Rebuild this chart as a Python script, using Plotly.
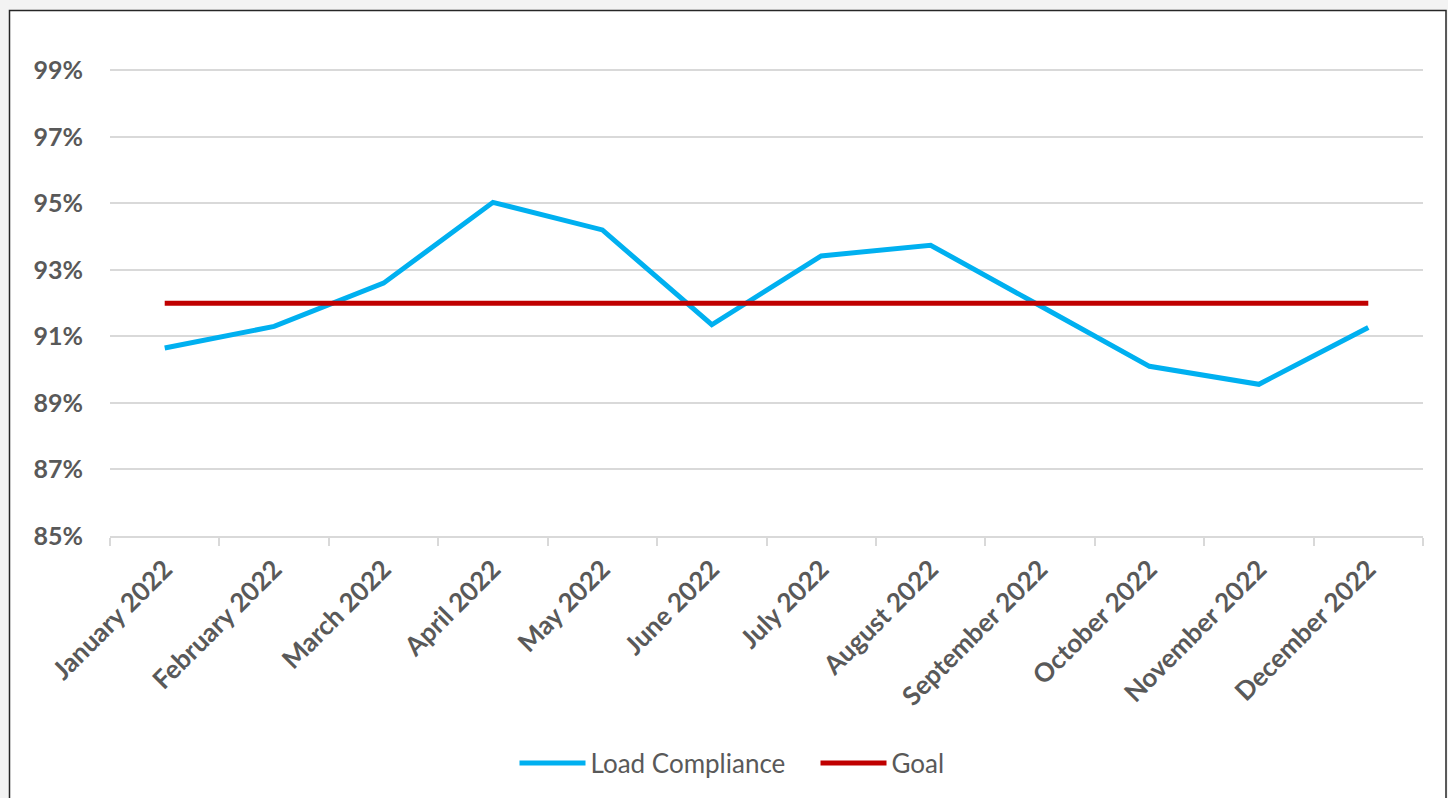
import plotly.graph_objects as go

months = ["January 2022", "February 2022", "March 2022", "April 2022", "May 2022", "June 2022",
          "July 2022", "August 2022", "September 2022", "October 2022", "November 2022", "December 2022"]
load_compliance = [90.65, 91.3, 92.6, 95.03, 94.2, 91.35, 93.42, 93.74, 91.92, 90.1, 89.56, 91.27]
goal = [92, 92, 92, 92, 92, 92, 92, 92, 92, 92, 92, 92]

fig = go.Figure()
fig.add_trace(go.Scatter(x=months, y=load_compliance, mode="lines", name="Load Compliance",
                         line=dict(color="#00B0F0", width=5)))
fig.add_trace(go.Scatter(x=months, y=goal, mode="lines", name="Goal",
                         line=dict(color="#C00000", width=5)))

W, H = 1448, 798
ml, mr, mt, mb = 110, 25, 37, 262
pw, ph = W - ml - mr, H - mt - mb

fig.add_shape(type="rect", xref="paper", yref="paper", layer="below",
              x0=(9.5 - ml) / pw, x1=(1446 - ml) / pw,
              y0=-0.7, y1=(H - mb - 10.5) / ph,
              line=dict(color="#262626", width=1.5), fillcolor="white")

FONT = "Lato"
fig.update_layout(
    width=W, height=H,
    margin=dict(l=ml, r=mr, t=mt, b=mb),
    paper_bgcolor="#f3f3f3",
    plot_bgcolor="white",
    font=dict(family=FONT, color="#595959"),
    showlegend=True,
    legend=dict(orientation="h", x=0.5 + 49 / pw, xanchor="center", y=-(763 - (H - mb)) / ph,
                yanchor="middle", entrywidth=220, entrywidthmode="pixels",
                font=dict(size=26, family=FONT, color="#595959"), itemwidth=66, bgcolor="rgba(0,0,0,0)"),
    xaxis=dict(
        range=[-0.5, 11.5],
        tickangle=-45, tickson="boundaries", ticks="outside", ticklen=8, tickcolor="#d9d9d9", tickwidth=1.5,
        showline=True, linecolor="#d9d9d9", linewidth=1.5, showgrid=False,
        tickfont=dict(size=26, family=FONT, color="#595959", weight="bold"),
        ticklabelstandoff=6,
    ),
    yaxis=dict(
        range=[85, 100], tick0=85, dtick=2, ticksuffix="%",
        showgrid=True, gridcolor="#d9d9d9", gridwidth=1.5, zeroline=False, showline=False,
        tickfont=dict(size=25, family=FONT, color="#595959", weight="bold"),
        ticklabelstandoff=26,
    ),
)

fig.write_html("out.html", config={"displayModeBar": False},
               post_script="document.body.style.margin='0';document.body.style.background='#f3f3f3';")
